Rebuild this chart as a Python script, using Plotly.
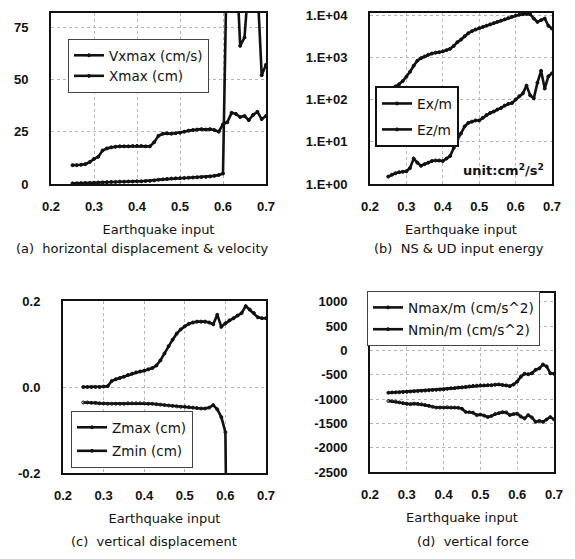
import plotly.graph_objects as go

# ---------------- data ----------------
eq_input = [0.25, 0.26, 0.27, 0.28, 0.29, 0.30, 0.31, 0.32, 0.33, 0.34,
            0.35, 0.36, 0.37, 0.38, 0.39, 0.40, 0.41, 0.42, 0.43, 0.44,
            0.45, 0.46, 0.47, 0.48, 0.49, 0.50, 0.51, 0.52, 0.53, 0.54,
            0.55, 0.56, 0.57, 0.58, 0.59, 0.60, 0.61, 0.62, 0.63, 0.64,
            0.65, 0.66, 0.67, 0.68, 0.69, 0.70]

# (a) horizontal displacement & velocity
vxmax = [9.0, 9.0, 9.2, 9.5, 10.5, 12.0, 13.0, 16.0, 17.0, 17.5,
         17.8, 18.0, 18.0, 18.0, 18.2, 18.2, 18.2, 18.0, 18.0, 20.0,
         23.0, 24.0, 24.2, 24.0, 24.3, 24.5, 25.0, 25.5, 25.8, 26.0,
         26.2, 26.0, 26.2, 25.8, 25.0, 28.5, 29.5, 34.0, 33.5, 32.0,
         32.5, 30.5, 33.0, 34.5, 31.0, 32.5]
xmax = [0.3, 0.3, 0.4, 0.5, 0.5, 0.6, 0.7, 0.8, 0.9, 1.0,
        1.0, 1.1, 1.1, 1.2, 1.2, 1.3, 1.3, 1.4, 1.5, 1.7,
        2.0, 2.2, 2.4, 2.6, 2.7, 2.8, 2.9, 3.0, 3.1, 3.2,
        3.3, 3.4, 3.6, 3.9, 4.3, 5.0, 120.0, 130.0, 110.0, 66.0,
        70.0, 110.0, 125.0, 95.0, 52.0, 57.0]

# (b) NS & UD input energy
ex_m = [165, 185, 205, 230, 275, 345, 455, 630, 830, 955,
        1050, 1150, 1230, 1290, 1320, 1380, 1480, 1590, 1860, 2290,
        2630, 3160, 3720, 4170, 4570, 4900, 5250, 5620, 6030, 6460,
        6920, 7410, 7940, 8510, 9120, 9770, 10200, 10500, 10700, 10500,
        8300, 6900, 7600, 8300, 5600, 4800]
ez_m = [1.5, 1.66, 1.8, 1.9, 1.95, 2.0, 2.4, 4.0, 3.2, 2.7,
        2.95, 3.2, 3.5, 3.6, 3.6, 3.5, 4.0, 4.6, 7.1, 11.2,
        15.8, 23, 28, 30, 32, 32, 37, 43, 48, 52,
        58, 63, 72, 79, 83, 100, 120, 140, 214, 126,
        107, 251, 480, 182, 355, 417]

# (c) vertical displacement
zmax = [0.000, 0.000, 0.000, 0.000, 0.000, 0.001, 0.002, 0.014, 0.018, 0.021,
        0.024, 0.028, 0.031, 0.034, 0.036, 0.038, 0.041, 0.044, 0.050, 0.062,
        0.078, 0.095, 0.110, 0.124, 0.134, 0.141, 0.147, 0.150, 0.152, 0.152,
        0.152, 0.150, 0.146, 0.168, 0.140, 0.148, 0.155, 0.160, 0.166, 0.172,
        0.188, 0.180, 0.172, 0.162, 0.160, 0.160]
zmin = [-0.036, -0.036, -0.037, -0.037, -0.038, -0.038, -0.039, -0.039, -0.039, -0.039,
        -0.039, -0.038, -0.038, -0.038, -0.038, -0.038, -0.039, -0.039, -0.040, -0.041,
        -0.042, -0.043, -0.044, -0.045, -0.046, -0.046, -0.047, -0.048, -0.049, -0.050,
        -0.050, -0.048, -0.042, -0.052, -0.070, -0.105, -1.0, -1.0, -1.0, -1.0,
        -1.0, -1.0, -1.0, -1.0, -1.0, -1.0]

# (d) vertical force
nmax = [-870, -865, -862, -860, -855, -852, -845, -840, -835, -830,
        -825, -820, -815, -810, -805, -800, -790, -780, -775, -765,
        -760, -750, -740, -730, -725, -720, -720, -715, -715, -705,
        -700, -710, -720, -735, -700, -640, -540, -480, -490, -470,
        -400, -370, -290, -330, -470, -480]
nmin = [-1040, -1045, -1055, -1070, -1085, -1100, -1105, -1095, -1100, -1110,
        -1125, -1140, -1160, -1175, -1175, -1175, -1170, -1175, -1175, -1180,
        -1200, -1265, -1270, -1280, -1330, -1320, -1340, -1370, -1350, -1310,
        -1290, -1270, -1275, -1330, -1310, -1300, -1360, -1400, -1330, -1380,
        -1470, -1450, -1470, -1420, -1370, -1420]

x_ticks = [0.2, 0.3, 0.4, 0.5, 0.6, 0.7]
x_ticktext = ["0.2", "0.3", "0.4", "0.5", "0.6", "0.7"]
ya_ticks = [0, 25, 50, 75]
yb_ticks = [1, 10, 100, 1000, 10000]
yb_ticktext = ["1.E+00", "1.E+01", "1.E+02", "1.E+03", "1.E+04"]
yc_ticks = [-0.2, 0.0, 0.2]
yc_ticktext = ["-0.2", "0.0", "0.2"]
yd_ticks = [-2500, -2000, -1500, -1000, -500, 0, 500, 1000]
yd_ticktext = ["-2500", "-2000", "-1500", "-1000", "-500", "0", "500", "1000"]

captions = ["(a)\u00a0 horizontal displacement & velocity",
            "(b)\u00a0 NS & UD input energy",
            "(c)\u00a0 vertical displacement",
            "(d)\u00a0 vertical force"]
x_title = "Earthquake input"

# ---------------- figure ----------------
# the page body has an 8px margin, so the figure is sized to fit the window
OFF = 8
W, H = 567, 551
FONT = "Liberation Sans, Arial, sans-serif"
TFONT = "DejaVu Sans, Liberation Sans, sans-serif"
INK = "#111111"


def px(v):
    return (v - OFF) / W


def py(v):
    return 1 - (v - OFF) / H


fig = go.Figure()

series = [
    ("Vxmax (cm/s)", eq_input, vxmax, "x", "y", "legend", "circle"),
    ("Xmax (cm)", eq_input, xmax, "x", "y", "legend", "circle"),
    ("Ex/m", eq_input, ex_m, "x2", "y2", "legend2", "circle"),
    ("Ez/m", eq_input, ez_m, "x2", "y2", "legend2", "circle"),
    ("Zmax (cm)", eq_input, zmax, "x3", "y3", "legend3", "circle"),
    ("Zmin (cm)", eq_input, zmin, "x3", "y3", "legend3", "circle-open"),
    ("Nmax/m (cm/s^2)", eq_input, nmax, "x4", "y4", "legend4", "circle"),
    ("Nmin/m (cm/s^2)", eq_input, nmin, "x4", "y4", "legend4", "circle-open"),
]
for i, (name, xs, ys, xa, ya, lg, sym) in enumerate(series):
    fig.add_trace(go.Scatter(
        x=xs, y=ys, name=name, xaxis=xa, yaxis=ya, legend=lg,
        legendgroup="g%d" % i,
        mode="lines+markers",
        line=dict(color=INK, width=2.6),
        marker=dict(color=INK, size=3, symbol=sym, line=dict(width=1, color=INK)),
    ))

tickfont = dict(family=FONT, size=13, color=INK, weight="bold")
axis_common = dict(showline=True, mirror=True, linecolor=INK, linewidth=2,
                   ticks="", showgrid=True, gridcolor="#b5b5b5", griddash="dot",
                   gridwidth=1, zeroline=False, tickfont=tickfont, automargin=False,
                   ticklabeloverflow="allow")

x_common = dict(axis_common, range=[0.2, 0.7], tickvals=x_ticks, ticktext=x_ticktext,
                ticklabelstandoff=9,
                title=dict(text=x_title, font=dict(family=TFONT, size=13, color=INK), standoff=12))

panels = {
    "a": dict(x=(51, 266), y=(13, 184)),
    "b": dict(x=(370, 552), y=(13, 184)),
    "c": dict(x=(63, 266), y=(301, 473)),
    "d": dict(x=(370, 554), y=(293, 472)),
}


def dom_x(p):
    return [px(panels[p]["x"][0]), px(panels[p]["x"][1])]


def dom_y(p):
    return [py(panels[p]["y"][1]), py(panels[p]["y"][0])]


Y_STANDOFF = 18
fig.update_layout(
    width=W, height=H,
    margin=dict(l=0, r=0, t=0, b=0, autoexpand=False),
    paper_bgcolor="white", plot_bgcolor="white",
    font=dict(family=FONT, color=INK),
    xaxis=dict(x_common, domain=dom_x("a"), anchor="y"),
    yaxis=dict(axis_common, domain=dom_y("a"), anchor="x", range=[0, 81.7],
               tickvals=ya_ticks, ticklabelstandoff=Y_STANDOFF),
    xaxis2=dict(x_common, domain=dom_x("b"), anchor="y2"),
    yaxis2=dict(axis_common, domain=dom_y("b"), anchor="x2", type="log", range=[0, 4.05],
                tickvals=yb_ticks, ticktext=yb_ticktext, ticklabelstandoff=Y_STANDOFF),
    xaxis3=dict(x_common, domain=dom_x("c"), anchor="y3"),
    yaxis3=dict(axis_common, domain=dom_y("c"), anchor="x3", range=[-0.2, 0.2],
                tickvals=yc_ticks, ticktext=yc_ticktext, ticklabelstandoff=Y_STANDOFF),
    xaxis4=dict(x_common, domain=dom_x("d"), anchor="y4"),
    yaxis4=dict(axis_common, domain=dom_y("d"), anchor="x4", range=[-2500, 1180],
                tickvals=yd_ticks, ticktext=yd_ticktext, ticklabelstandoff=Y_STANDOFF),
)

leg_common = dict(bgcolor="white", xanchor="left", yanchor="top", itemwidth=30)
fig.update_layout(
    legend=dict(leg_common, x=px(68), y=py(39), bordercolor="#444444", borderwidth=1,
                tracegroupgap=0, font=dict(family=TFONT, size=13.5, color=INK)),
    legend2=dict(leg_common, x=px(375), y=py(86), bordercolor=INK, borderwidth=2,
                 tracegroupgap=5, font=dict(family=TFONT, size=13.8, color=INK)),
    legend3=dict(leg_common, x=px(71), y=py(411), bordercolor="#444444", borderwidth=1,
                 tracegroupgap=3, font=dict(family=TFONT, size=13.5, color=INK)),
    legend4=dict(leg_common, x=px(367), y=py(291), bordercolor="#444444", borderwidth=1,
                 tracegroupgap=1, font=dict(family=TFONT, size=13.7, color=INK)),
)

cap_pos = [(142, 248), (459, 248), (154, 541), (473, 541)]
for text, (cx, cy) in zip(captions, cap_pos):
    fig.add_annotation(text=text, x=px(cx), y=py(cy), xref="paper", yref="paper",
                       showarrow=False, xanchor="center", yanchor="middle",
                       font=dict(family=TFONT, size=13, color=INK))

fig.add_annotation(text="unit:cm<sup>2</sup>/s<sup>2</sup>", x=px(503), y=py(170),
                   xref="paper", yref="paper", showarrow=False,
                   xanchor="center", yanchor="middle",
                   font=dict(family=TFONT, size=13, color=INK, weight="bold"))

fig.write_html("out.html")
